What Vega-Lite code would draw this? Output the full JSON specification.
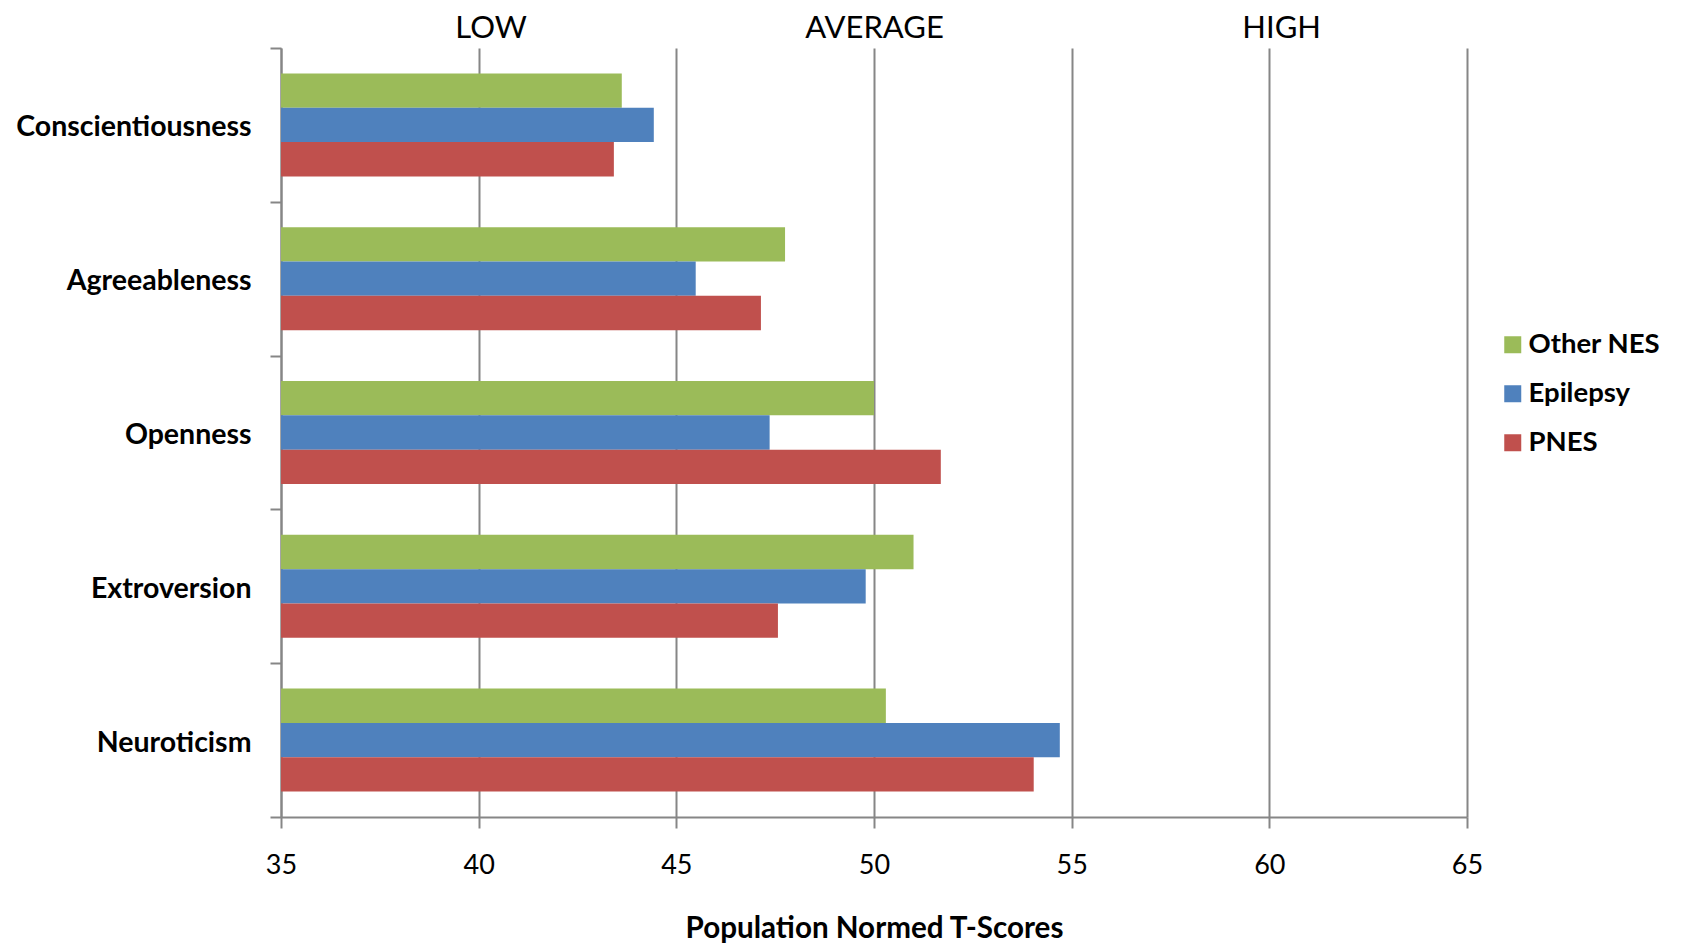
{
  "$schema": "https://vega.github.io/schema/vega-lite/v6.json",
  "width": 1186,
  "height": 769,
  "autosize": {"type": "none"},
  "padding": {"left": 281, "top": 48, "right": 215, "bottom": 126},
  "background": "white",
  "config": {"view": {"stroke": null}, "font": "Lato"},
  "layer": [
    {
      "data": {
        "values": [
          {"trait": "Conscientiousness", "group": "Other NES", "score": 43.62},
          {"trait": "Conscientiousness", "group": "Epilepsy", "score": 44.43},
          {"trait": "Conscientiousness", "group": "PNES", "score": 43.42},
          {"trait": "Agreeableness", "group": "Other NES", "score": 47.75},
          {"trait": "Agreeableness", "group": "Epilepsy", "score": 45.49},
          {"trait": "Agreeableness", "group": "PNES", "score": 47.14},
          {"trait": "Openness", "group": "Other NES", "score": 50.0},
          {"trait": "Openness", "group": "Epilepsy", "score": 47.36},
          {"trait": "Openness", "group": "PNES", "score": 51.69},
          {"trait": "Extroversion", "group": "Other NES", "score": 51.0},
          {"trait": "Extroversion", "group": "Epilepsy", "score": 49.79},
          {"trait": "Extroversion", "group": "PNES", "score": 47.57},
          {"trait": "Neuroticism", "group": "Other NES", "score": 50.3},
          {"trait": "Neuroticism", "group": "Epilepsy", "score": 54.7},
          {"trait": "Neuroticism", "group": "PNES", "score": 54.04}
        ]
      },
      "mark": {"type": "bar"},
      "encoding": {
        "y": {
          "field": "trait",
          "type": "nominal",
          "sort": ["Conscientiousness", "Agreeableness", "Openness", "Extroversion", "Neuroticism"],
          "scale": {"paddingInner": 0, "paddingOuter": 0},
          "axis": {
            "title": null,
            "tickBand": "extent",
            "labelFontSize": 28.5,
            "labelFontWeight": "bold",
            "labelColor": "black",
            "labelPadding": 19,
            "labelLimit": 0,
            "labelOffset": 2,
            "tickSize": 11,
            "tickColor": "#868686",
            "tickWidth": 2,
            "domainColor": "#868686",
            "domainWidth": 2,
            "grid": false
          }
        },
        "yOffset": {
          "field": "group",
          "type": "nominal",
          "sort": ["Other NES", "Epilepsy", "PNES"],
          "scale": {"paddingInner": 0, "paddingOuter": 0.74}
        },
        "x": {
          "field": "score",
          "type": "quantitative",
          "scale": {"domain": [35, 65], "zero": false, "nice": false},
          "axis": {
            "values": [35, 40, 45, 50, 55, 60, 65],
            "grid": true,
            "gridColor": "#868686",
            "gridWidth": 2,
            "domainColor": "#868686",
            "domainWidth": 2,
            "tickColor": "#868686",
            "tickWidth": 2,
            "tickSize": 11,
            "labelFontSize": 27,
            "labelColor": "black",
            "labelPadding": 24,
            "labelFlush": false,
            "title": "Population Normed T-Scores",
            "titleFontSize": 29.6,
            "titleFontWeight": "bold",
            "titleColor": "black",
            "titlePadding": 36
          }
        },
        "x2": {"datum": 35},
        "color": {
          "field": "group",
          "type": "nominal",
          "scale": {"domain": ["Other NES", "Epilepsy", "PNES"], "range": ["#9BBB59", "#4F81BD", "#C0504D"]},
          "legend": {
            "orient": "none",
            "legendX": 1218,
            "legendY": 283,
            "title": null,
            "padding": 0,
            "symbolType": "square",
            "symbolSize": 289,
            "symbolStrokeWidth": 0,
            "labelFontSize": 27.5,
            "labelFontWeight": "bold",
            "labelColor": "black",
            "labelOffset": 2,
            "labelLimit": 0,
            "rowPadding": 20
          }
        }
      }
    },
    {
      "data": {
        "values": [
          {"zone": "LOW", "pos": 40.3},
          {"zone": "AVERAGE", "pos": 50.0},
          {"zone": "HIGH", "pos": 60.3}
        ]
      },
      "mark": {"type": "point", "opacity": 0},
      "encoding": {
        "x": {
          "field": "pos",
          "type": "quantitative",
          "axis": {
            "orient": "top",
            "values": [40.3, 50, 60.3],
            "labelExpr": "datum.value < 45 ? 'LOW' : (datum.value < 55 ? 'AVERAGE' : 'HIGH')",
            "domain": false,
            "ticks": false,
            "grid": false,
            "title": null,
            "labelFontSize": 31,
            "labelColor": "black",
            "labelBaseline": "middle",
            "labelPadding": 20,
            "labelOverlap": false,
            "labelFlush": false
          }
        }
      }
    }
  ],
  "resolve": {"axis": {"x": "independent"}}
}
